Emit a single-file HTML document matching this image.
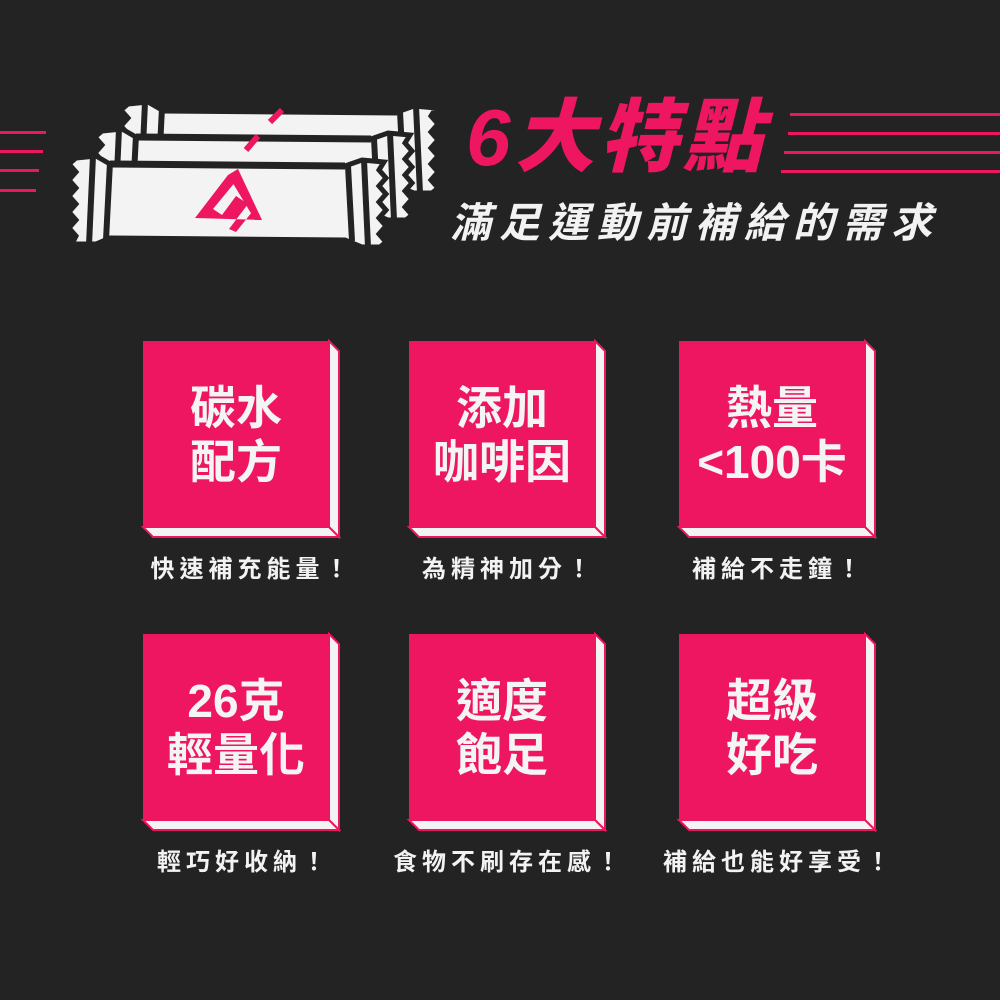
<!DOCTYPE html>
<html><head><meta charset="utf-8"><style>
html,body{margin:0;padding:0;background:#232323;}
body{width:1000px;height:1000px;position:relative;overflow:hidden;font-family:"Liberation Sans","Noto Sans CJK TC",sans-serif;}
.t{position:absolute;white-space:nowrap;font-weight:bold;}
.title{left:466px;top:88px;font-size:80px;color:#ee1660;font-style:italic;letter-spacing:4px;line-height:100px;font-weight:900;}
.sub{left:450px;top:195px;font-size:41px;color:#f2f2f2;font-style:italic;letter-spacing:8px;line-height:56px;}
.bx{position:absolute;width:186px;text-align:center;color:#f4f4f4;font-size:46px;line-height:54px;font-weight:bold;}
.cap{position:absolute;width:260px;text-align:center;color:#f2f2f2;font-size:24px;letter-spacing:5px;font-weight:bold;line-height:30px;}
</style></head><body>
<svg width="1000" height="1000" style="position:absolute;left:0;top:0">
<g fill="#ee1660">
<rect x="0" y="131" width="46" height="3"/><rect x="0" y="150" width="43" height="3"/><rect x="0" y="169" width="39" height="3"/><rect x="0" y="189" width="36" height="3"/>
<rect x="790" y="113" width="210" height="3"/><rect x="788" y="132" width="212" height="3"/><rect x="784" y="151" width="216" height="3"/><rect x="781" y="170" width="219" height="3"/>
</g>
<defs>
<g id="wr">
<path d="M76,158 L96,156 L110,164 L345,166 L362,160 L384,162 L379,170 L386,178 L379,186 L386,194 L379,202 L386,210 L379,218 L386,226 L379,234 L386,242 L380,247 L362,247 L345,240 L110,238 L96,244 L72,244 L76,236 L69,228 L76,220 L69,212 L76,204 L69,196 L76,188 L69,180 L76,172 L69,164 Z" fill="#f3f3f3" stroke="#232323" stroke-width="5"/>
<path d="M93,156 L89,245 M110,162 L106,240 M348,166 L352,241 M364,160 L368,247" stroke="#232323" stroke-width="6" fill="none"/>
<path d="M110,164 L345,166" stroke="#232323" stroke-width="7"/>
</g>
</defs>
<use href="#wr" transform="translate(52,-54)"/>
<path d="M270,122 L282,110" stroke="#ee1660" stroke-width="6"/>
<use href="#wr" transform="translate(26,-27)"/>
<path d="M246,150 L258,136" stroke="#ee1660" stroke-width="6"/>
<use href="#wr"/>
<g fill="#ee1660">
<path d="M195,218 L228,175 L236,181 L213,209 L222,215 L236,196 L248,204 L229,229 L236,232 L252,212 L262,220 Z"/>
<path d="M228,175 L238,169 L262,220 L255,220 Z"/>
</g>
<g fill="#f3f3f3" stroke="#ee1660" stroke-width="2">
<polygon points="329,341 339,351 339,537 329,527"/><polygon points="143,527 329,527 339,537 153,537"/>
<polygon points="595,341 605,351 605,537 595,527"/><polygon points="409,527 595,527 605,537 419,537"/>
<polygon points="865,341 875,351 875,537 865,527"/><polygon points="679,527 865,527 875,537 689,537"/>
<polygon points="329,634 339,644 339,830 329,820"/><polygon points="143,820 329,820 339,830 153,830"/>
<polygon points="595,634 605,644 605,830 595,820"/><polygon points="409,820 595,820 605,830 419,830"/>
<polygon points="865,634 875,644 875,830 865,820"/><polygon points="679,820 865,820 875,830 689,830"/>
</g>
<g fill="#ee1660">
<rect x="143" y="341" width="186" height="186"/><rect x="409" y="341" width="186" height="186"/><rect x="679" y="341" width="186" height="186"/>
<rect x="143" y="634" width="186" height="186"/><rect x="409" y="634" width="186" height="186"/><rect x="679" y="634" width="186" height="186"/>
</g>
</svg>
<div class="t title">6大特點</div>
<div class="t sub">滿足運動前補給的需求</div>
<div class="bx" style="left:143px;top:381px">碳水<br>配方</div>
<div class="bx" style="left:409px;top:381px">添加<br>咖啡因</div>
<div class="bx" style="left:679px;top:381px">熱量<br>&lt;100卡</div>
<div class="bx" style="left:143px;top:674px">26克<br>輕量化</div>
<div class="bx" style="left:409px;top:674px">適度<br>飽足</div>
<div class="bx" style="left:679px;top:674px">超級<br>好吃</div>
<div class="cap" style="left:122px;top:555px">快速補充能量！</div>
<div class="cap" style="left:379px;top:555px">為精神加分！</div>
<div class="cap" style="left:649px;top:555px">補給不走鐘！</div>
<div class="cap" style="left:114px;top:848px">輕巧好收納！</div>
<div class="cap" style="left:379px;top:848px">食物不刷存在感！</div>
<div class="cap" style="left:649px;top:848px">補給也能好享受！</div>
</body></html>
